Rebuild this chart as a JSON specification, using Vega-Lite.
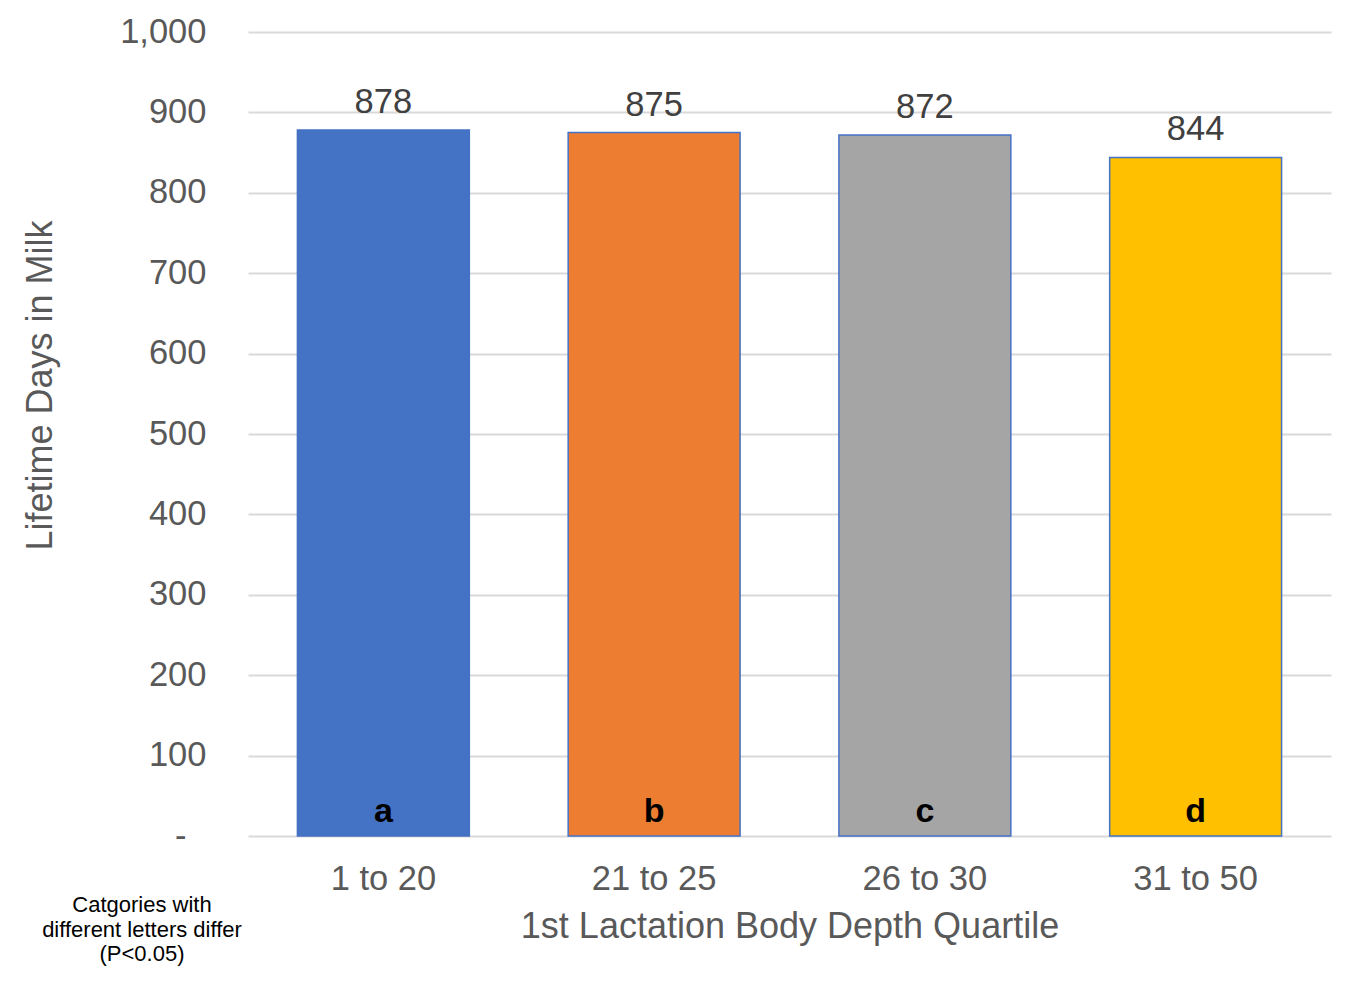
{
  "$schema": "https://vega.github.io/schema/vega-lite/v6.json",
  "width": 1083,
  "height": 804,
  "autosize": {"type": "none"},
  "padding": {"left": 248, "top": 32, "right": 24, "bottom": 146},
  "background": "white",
  "config": {
    "font": "Liberation Sans",
    "view": {"stroke": null}
  },
  "title": {
    "text": ["Catgories with", "different letters differ", "(P<0.05)"],
    "orient": "bottom",
    "anchor": "start",
    "frame": "group",
    "align": "center",
    "dx": -106,
    "dy": -53,
    "fontSize": 22,
    "fontWeight": "normal",
    "lineHeight": 24.5,
    "color": "black",
    "font": "Liberation Sans"
  },
  "data": {
    "values": [
      {"quartile": "1 to 20", "days": 878, "letter": "a"},
      {"quartile": "21 to 25", "days": 875, "letter": "b"},
      {"quartile": "26 to 30", "days": 872, "letter": "c"},
      {"quartile": "31 to 50", "days": 844, "letter": "d"}
    ]
  },
  "encoding": {
    "x": {
      "field": "quartile",
      "type": "nominal",
      "sort": null,
      "scale": {"paddingInner": 0.365, "paddingOuter": 0.1825},
      "axis": {
        "title": "1st Lactation Body Depth Quartile",
        "labelAngle": 0,
        "labelFontSize": 34.5,
        "labelColor": "#595959",
        "labelPadding": 26,
        "ticks": false,
        "domain": false,
        "titleFontSize": 36,
        "titleFontWeight": "normal",
        "titleColor": "#595959",
        "titleY": 90,
        "titleBaseline": "middle"
      }
    }
  },
  "layer": [
    {
      "mark": {"type": "bar", "stroke": "#4472C4", "strokeWidth": 1.5},
      "encoding": {
        "y": {
          "field": "days",
          "type": "quantitative",
          "scale": {"domain": [0, 1000], "nice": false},
          "axis": {
            "title": "Lifetime Days in Milk",
            "values": [0, 100, 200, 300, 400, 500, 600, 700, 800, 900, 1000],
            "labelExpr": "datum.value == 0 ? '-' : format(datum.value, ',')",
            "labelFontSize": 34.5,
            "labelColor": "#595959",
            "labelPadding": {"condition": {"test": "datum.value == 0", "value": 62}, "value": 42},
            "ticks": false,
            "domain": false,
            "grid": true,
            "gridColor": "#d9d9d9",
            "gridWidth": 2,
            "titleFontSize": 36,
            "titleFontWeight": "normal",
            "titleColor": "#595959",
            "titleX": -208,
            "titleY": 353,
            "titleBaseline": "middle",
            "titleAlign": "center",
            "titleAngle": -90
          }
        },
        "color": {
          "field": "quartile",
          "type": "nominal",
          "sort": null,
          "scale": {"range": ["#4472C4", "#ED7D31", "#A5A5A5", "#FFC000"]},
          "legend": null
        }
      }
    },
    {
      "mark": {"type": "text", "fontSize": 34.5, "color": "#404040", "baseline": "alphabetic", "dy": -17},
      "encoding": {
        "y": {"field": "days", "type": "quantitative"},
        "text": {"field": "days", "type": "quantitative"}
      }
    },
    {
      "mark": {"type": "text", "fontSize": 34, "fontWeight": "bold", "color": "black", "baseline": "alphabetic", "dy": -14},
      "encoding": {
        "y": {"datum": 0, "type": "quantitative"},
        "text": {"field": "letter"}
      }
    }
  ]
}
